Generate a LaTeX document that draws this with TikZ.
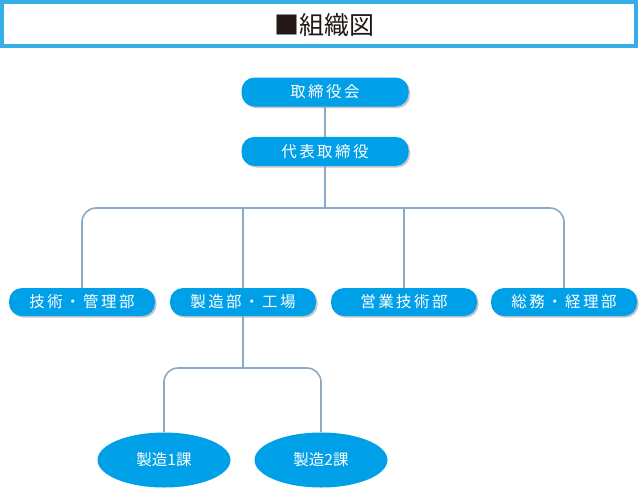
\documentclass[tikz,border=0pt]{standalone}
\usepackage{fontspec}
\usepackage{xcolor}
\usepackage{tikz}
\usetikzlibrary{positioning,shadows,shapes.geometric}
\newfontfamily\jpfont{Noto Sans CJK JP}
\newfontfamily\jpspaced[LetterSpace=16]{Noto Sans CJK JP}
\definecolor{orgblue}{RGB}{0,160,233}
\definecolor{titleblue}{RGB}{53,176,230}
\definecolor{orgline}{RGB}{140,170,195}
\definecolor{inkblack}{RGB}{35,24,21}
\tikzset{
    org-box/.style={
        rectangle,
        rounded corners=13pt,
        fill=orgblue,
        text=white,
        minimum width=146pt,
        minimum height=28pt,
        inner sep=0pt,
        font=\jpspaced\fontsize{15.5}{17}\selectfont,
        drop shadow={shadow xshift=1.6pt,shadow yshift=-1.6pt,fill=black!45}
    },
    org-top/.style={
        org-box,
        minimum width=167pt,
        minimum height=29pt
    },
    org-oval/.style={
        ellipse,
        fill=orgblue,
        text=white,
        minimum width=133pt,
        minimum height=55pt,
        inner sep=0pt,
        font=\jpfont\fontsize{15.5}{17}\selectfont
    },
    org-line/.style={
        draw=orgline,
        line width=1.6pt,
        rounded corners=14pt
    },
}
\begin{document}
\begin{tikzpicture}[x=1pt,y=-1pt]
       \useasboundingbox (0,0) rectangle (643,488);

       % Title
       \draw[titleblue,line width=4pt] (2,2) rectangle (636,46);
       \node[font=\jpfont\fontsize{25}{27}\selectfont,text=inkblack] (title) at (324,25) {■組織図};

       % Top
       \node[org-top] (board) at (325,92) {取締役会};
       \node[org-top,below=30pt of board] (president) {代表取締役};

       % Departments
       \node[org-box] (tech) at (82,302) {技術・管理部};
       \node[org-box] (mfg) at (243,302) {製造部・工場};
       \node[org-box] (sales) at (404,302) {営業技術部};
       \node[org-box] (admin) at (564,302) {総務・経理部};

       % Sections
       \node[org-oval] (sec1) at (164,460) {製造1課};
       \node[org-oval] (sec2) at (321,460) {製造2課};

       \coordinate (bus) at (president.south |- 0,208);
       \coordinate (bus2) at (mfg.south |- 0,368);

       \draw[org-line] (board.south) -- (president.north);
       \draw[org-line] (president.south) -- (bus);
       \draw[org-line] (tech.north) |- (bus) -| (admin.north);
       \draw[org-line] (mfg.north) -- (mfg.north |- bus);
       \draw[org-line] (sales.north) -- (sales.north |- bus);

       \draw[org-line] (mfg.south) -- (bus2);
       \draw[org-line] (sec1.north) |- (bus2) -| (sec2.north);
\end{tikzpicture}
\end{document}
